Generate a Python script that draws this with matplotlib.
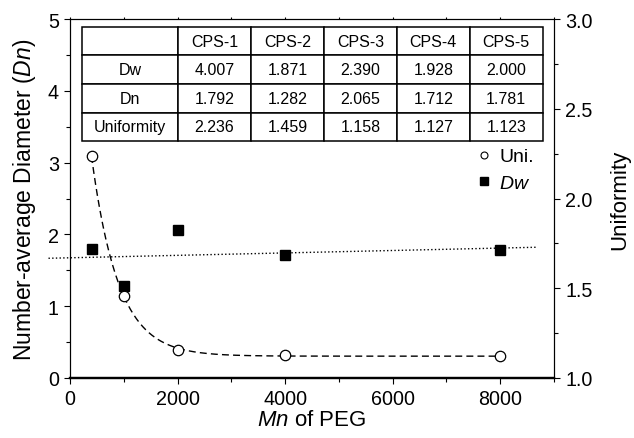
import numpy as np
import matplotlib.pyplot as plt
from matplotlib.lines import Line2D
from matplotlib.ticker import MultipleLocator

plt.rcParams['font.family'] = 'Liberation Sans'
plt.rcParams['mathtext.fontset'] = 'custom'
plt.rcParams['mathtext.it'] = 'Liberation Sans:italic'
plt.rcParams['mathtext.rm'] = 'Liberation Sans'

# data
mn_peg = [400, 1000, 2000, 4000, 8000]
dn = [1.792, 1.282, 2.065, 1.712, 1.781]
uniformity = [2.236, 1.459, 1.158, 1.127, 1.123]

col_labels = ['', 'CPS-1', 'CPS-2', 'CPS-3', 'CPS-4', 'CPS-5']
row_dw = ['Dw', '4.007', '1.871', '2.390', '1.928', '2.000']
row_dn = ['Dn', '1.792', '1.282', '2.065', '1.712', '1.781']
row_uni = ['Uniformity', '2.236', '1.459', '1.158', '1.127', '1.123']

x = np.array(mn_peg, dtype=float)
u = np.array(uniformity)

# linear fit of Dn
k, b = np.polyfit(x, dn, 1)
xl = np.array([-400, 8700])

# exponential decay fit of uniformity: y0 + A*exp(-x/t)
best = None
for t in np.linspace(100, 3000, 2901):
    M = np.column_stack([np.ones_like(x), np.exp(-x / t)])
    coef, *_ = np.linalg.lstsq(M, u, rcond=None)
    err = np.sum((M @ coef - u) ** 2)
    if best is None or err < best[0]:
        best = (err, t, coef)
_, t_fit, (y0, A) = best
xe = np.linspace(400, 8000, 400)
ye = y0 + A * np.exp(-xe / t_fit)

fig = plt.figure(figsize=(6.34, 4.39), dpi=100)
ax = fig.add_axes([0.1104, 0.1367, 0.7634, 0.8177])
ax2 = ax.twinx()

ax.plot(xl, k * xl + b, ls=':', color='black', lw=1, clip_on=False)
ax.plot(x, dn, 's', color='black', ms=7, zorder=5)
ax2.plot(xe, ye, ls=(0, (5, 3)), color='black', lw=1)
ax2.plot(x, u, 'o', mfc='white', mec='black', ms=7.5, mew=0.9, zorder=5)

ax.set_xlim(0, 9000)
ax.set_ylim(0, 5)
ax2.set_ylim(1.0, 3.0)

ax.xaxis.set_major_locator(MultipleLocator(2000))
ax.xaxis.set_minor_locator(MultipleLocator(1000))
ax.yaxis.set_major_locator(MultipleLocator(1))
ax.yaxis.set_minor_locator(MultipleLocator(0.5))
ax2.yaxis.set_major_locator(MultipleLocator(0.5))
ax2.yaxis.set_minor_locator(MultipleLocator(0.25))

ax.tick_params(axis='both', which='major', direction='out', length=4.5, width=0.8, labelsize=14.2)
ax.tick_params(axis='both', which='minor', direction='out', length=3, width=0.8)
ax2.tick_params(axis='y', which='major', direction='out', length=4.5, width=0.8, labelsize=14.2)
ax2.tick_params(axis='y', which='minor', direction='out', length=3, width=0.8)
ax.xaxis.set_tick_params(which='both', top=True, labeltop=False)
for tk in ax.xaxis.get_major_ticks() + ax.xaxis.get_minor_ticks():
    tk.tick2line.set_markersize(1.5)

for s in ['left', 'top']:
    ax.spines[s].set_linewidth(0.8)
ax.spines['bottom'].set_linewidth(1.6)
ax2.spines['right'].set_linewidth(0.8)
ax2.spines['bottom'].set_linewidth(1.6)

ax.set_xlabel('$\\mathit{Mn}$ of PEG', fontsize=16, labelpad=1)
ax.set_ylabel('Number-average Diameter ($\\mathit{Dn}$)', fontsize=16.5, labelpad=7)
ax2.set_ylabel('Uniformity', fontsize=16, labelpad=12)

tbl = ax.table(cellText=[row_dw, row_dn, row_uni], colLabels=col_labels,
               cellLoc='center', bbox=[0.0248, 0.660, 0.952, 0.318],
               colWidths=[96, 73, 73, 73, 73, 73])
tbl.auto_set_font_size(False)
tbl.set_fontsize(11.5)
for cell in tbl.get_celld().values():
    cell.set_linewidth(1.1)
tbl.set_zorder(10)

handles = [Line2D([], [], ls='none', marker='o', mfc='white', mec='black', ms=5, mew=0.8),
           Line2D([], [], ls='none', marker='s', color='black', ms=6)]
ax.legend(handles, ['Uni.', '$\\mathit{Dw}$'], loc='upper right',
          bbox_to_anchor=(0.995, 0.69), frameon=False, fontsize=14,
          handlelength=0.6, handletextpad=0.5, labelspacing=0.45)

fig.savefig('out.png', dpi=100)
